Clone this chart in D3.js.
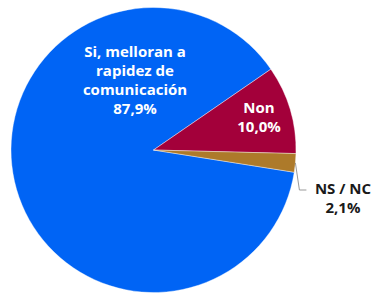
<!DOCTYPE html>
<html>
<head>
<meta charset="utf-8">
<script src="https://cdn.jsdelivr.net/npm/d3@7"></script>
<style>
  body { margin: 0; background: #fff; }
  svg { display: block; }
  text { font-family: "Open Sans", sans-serif; font-weight: bold; }
</style>
</head>
<body>
<div id="chart"></div>
<script>
const categories = ["Si, melloran a rapidez de comunicación", "Non", "NS / NC"];
const values = [87.9, 10.0, 2.1];
const colors = ["#0064f5", "#a3003a", "#ad7a2a"];
const labelLines = [
  ["Si, melloran a", "rapidez de", "comunicación", "87,9%"],
  ["Non", "10,0%"],
  ["NS / NC", "2,1%"]
];

const width = 373;
const height = 293;
const cx = 153.5;
const cy = 150;
const radius = 142.5;
const start = 99 * Math.PI / 180;

const svg = d3.select("#chart").append("svg")
    .attr("width", width)
    .attr("height", height);

const g = svg.append("g").attr("transform", `translate(${cx},${cy})`);

const pie = d3.pie().sort(null).value(d => d)
    .startAngle(start).endAngle(start + 2 * Math.PI);
const arcs = pie(values);
const arc = d3.arc().innerRadius(0).outerRadius(radius);

g.selectAll("path")
  .data(arcs)
  .enter().append("path")
    .attr("d", arc)
    .attr("fill", (d, i) => colors[i])
    .attr("stroke", "#fff")
    .attr("stroke-width", 0.4);

// label positions (relative to centre), inside for big slices, outside for the small one
const labelPos = [[-18.5, -98], [105.5, -42], [189.5, 39]];
const labelFill = ["#fff", "#fff", "#1a1a1a"];
const lineGap = 19;

labelLines.forEach((lines, i) => {
  const t = g.append("text")
      .attr("text-anchor", "middle")
      .attr("fill", labelFill[i])
      .style("font-size", "15px");
  lines.forEach((s, j) => {
    t.append("tspan")
      .attr("x", labelPos[i][0])
      .attr("y", labelPos[i][1] + j * lineGap)
      .attr("dy", "0.35em")
      .text(s);
  });
});

// leader line for NS / NC
const mid = (arcs[2].startAngle + arcs[2].endAngle) / 2;
const p0 = [Math.sin(mid) * radius, -Math.cos(mid) * radius];
g.append("polyline")
    .attr("points", [p0, [p0[0] + 4, 40], [p0[0] + 11, 40]].map(p => p.join(",")).join(" "))
    .attr("fill", "none")
    .attr("stroke", "#999")
    .attr("stroke-width", 1);
</script>
</body>
</html>
